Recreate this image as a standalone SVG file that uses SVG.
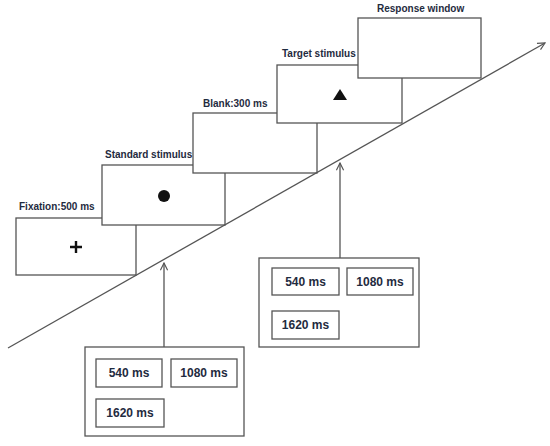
<svg xmlns="http://www.w3.org/2000/svg" width="550" height="446" viewBox="0 0 550 446">
<style>
.box{fill:#fff;stroke:#555;stroke-width:1.3}
.lbl{font-family:"Liberation Sans",Arial,sans-serif;font-weight:bold;font-size:10px;fill:#1f2b40}
.ms{font-family:"Liberation Sans",Arial,sans-serif;font-weight:bold;font-size:12px;fill:#1f2b40;text-anchor:middle}
.ln{stroke:#555;stroke-width:1.3;fill:none}
</style>
<defs>
<marker id="ah" viewBox="0 0 10 10" refX="9" refY="5" markerWidth="9" markerHeight="9" markerUnits="userSpaceOnUse" orient="auto">
<path d="M1,1 L9,5 L1,9" fill="none" stroke="#555" stroke-width="1.3"/>
</marker>
</defs>
<rect width="550" height="446" fill="#fff"/>
<g id="fixation">
<rect class="box" x="16" y="218" width="120" height="57"/>
<text class="lbl" x="19" y="210">Fixation:500 ms</text>
<path d="M70,247 H82 M76,241 V253" stroke="#111" stroke-width="2.4"/>
</g>
<g id="standard">
<rect class="box" x="102" y="165" width="123" height="60"/>
<text class="lbl" x="105" y="158">Standard stimulus</text>
<circle cx="164" cy="196" r="6" fill="#111"/>
</g>
<g id="blank">
<rect class="box" x="193" y="113" width="124" height="60"/>
<text class="lbl" x="203" y="107">Blank:300 ms</text>
</g>
<g id="target">
<rect class="box" x="277" y="65" width="125" height="58"/>
<text class="lbl" x="282" y="57">Target stimulus</text>
<polygon points="340,89 347,100 333,100" fill="#111"/>
</g>
<g id="response">
<rect class="box" x="358" y="18" width="123" height="60"/>
<text class="lbl" x="377" y="12">Response window</text>
</g>
<g id="connectors">
<line class="ln" x1="8" y1="348" x2="545" y2="43" marker-end="url(#ah)"/>
<line class="ln" x1="164" y1="347" x2="164" y2="263" marker-end="url(#ah)"/>
<line class="ln" x1="340" y1="258" x2="340" y2="163" marker-end="url(#ah)"/>
</g>
<g id="isi-left">
<rect class="box" x="85" y="347" width="159" height="89"/>
<rect class="box" x="96" y="359" width="66" height="28"/>
<text class="ms" x="129" y="377">540 ms</text>
<rect class="box" x="171" y="359" width="66" height="28"/>
<text class="ms" x="204" y="377">1080 ms</text>
<rect class="box" x="96" y="399" width="68" height="28"/>
<text class="ms" x="130" y="417">1620 ms</text>
</g>
<g id="isi-right">
<rect class="box" x="259" y="258" width="160" height="89"/>
<rect class="box" x="272" y="268" width="67" height="27"/>
<text class="ms" x="305.5" y="286">540 ms</text>
<rect class="box" x="347" y="268" width="66" height="27"/>
<text class="ms" x="380" y="286">1080 ms</text>
<rect class="box" x="272" y="311" width="67" height="28"/>
<text class="ms" x="305.5" y="329">1620 ms</text>
</g>
</svg>
